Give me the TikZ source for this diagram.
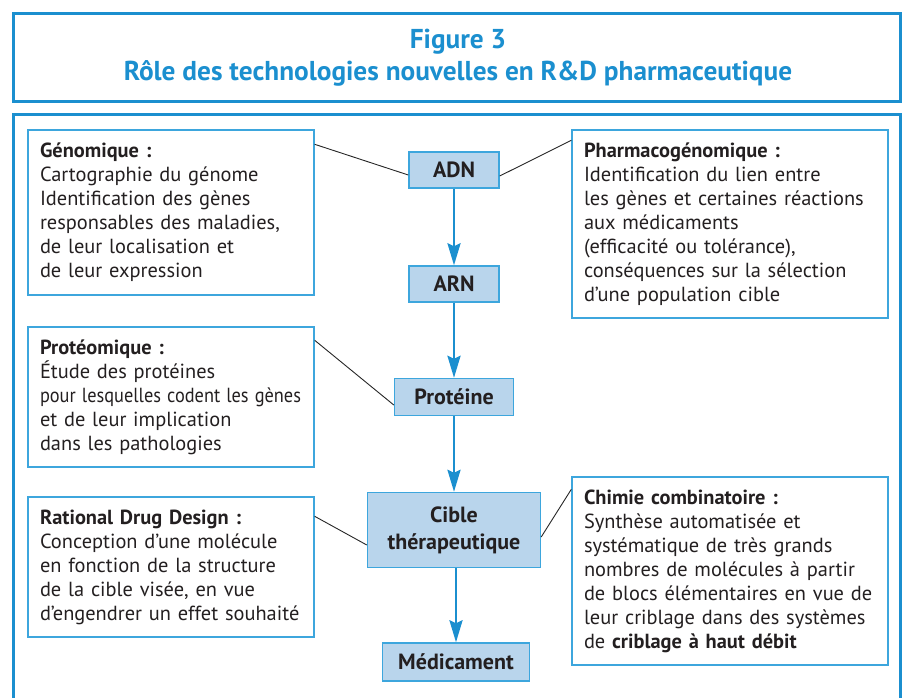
\documentclass[tikz,border=0pt]{standalone}
\usepackage{fontspec}
\usepackage{graphicx}
\setmainfont{PT Sans}
\usetikzlibrary{arrows.meta}

\definecolor{frameblue}{HTML}{1B8FCF}
\definecolor{boxblue}{HTML}{3DA6DD}
\definecolor{stagefill}{HTML}{B9D5EC}
\definecolor{bodytext}{HTML}{231F20}

\tikzset{
  infobox/.style={draw=boxblue, line width=1.4pt, text=bodytext, align=left,
    text width=#1, inner sep=12pt, font=\fontsize{20.4}{24}\selectfont},
  stage/.style={draw=boxblue, fill=stagefill, line width=1.4pt, text=bodytext,
    align=center, inner sep=4pt, font=\fontsize{22}{27}\selectfont\bfseries},
  flow/.style={draw=frameblue, line width=2.6pt,
    -{Stealth[length=22pt,width=13pt,inset=3pt]}},
  link/.style={draw=black!85, line width=0.9pt},
}

\begin{document}
\begin{tikzpicture}[x=1pt,y=-1pt]
    \useasboundingbox (0,0) rectangle (904,697);

    % title frame and main frame
    \draw[frameblue, line width=3pt] (13,13) rectangle (900,101);
    \node[text=frameblue, align=center, font=\fontsize{27.3}{32}\selectfont\bfseries]
      (title) at (458,58) {Figure 3\\Rôle des technologies nouvelles en R\&D pharmaceutique};
    \draw[frameblue, line width=3pt] (13,114) rectangle (900,720);

    % main chain
    \node[stage, minimum width=90pt, minimum height=36pt] (adn) at (454,170) {ADN};
    \node[stage, minimum width=90pt, minimum height=36pt] (arn) at (454,284) {ARN};
    \node[stage, minimum width=119pt, minimum height=37pt] (prot) at (454,397) {Protéine};
    \node[stage, minimum width=173pt, minimum height=75pt] (cible) at (454,530) {Cible\\thérapeutique};
    \node[stage, minimum width=147pt, minimum height=38pt] (medic) at (456,662) {Médicament};

    \draw[flow] (adn) -- (arn);
    \draw[flow] (arn) -- (prot);
    \draw[flow] (prot) -- (cible);
    \draw[flow] (cible.south -| medic.north) -- (medic);

    % side boxes
    \node[infobox=262pt, minimum width=286pt, minimum height=165pt] (geno) at (171,212.5)
      {\textbf{Génomique~:}\\Cartographie du génome\\Identification des gènes\\responsables des maladies,\\de leur localisation et\\de leur expression};
    \node[infobox=262pt, minimum width=286pt, minimum height=140pt] (proteo) at (171,397)
      {\textbf{Protéomique~:}\\Étude des protéines\\\resizebox{261pt}{\height}{pour lesquelles codent les gènes}\\et de leur implication\\dans les pathologies};
    \node[infobox=262pt, minimum width=286pt, minimum height=140pt] (rdd) at (171,567)
      {\textbf{Rational Drug Design~:}\\Conception d’une molécule\\en fonction de la structure\\de la cible visée, en vue\\d’engendrer un effet souhaité};
    \node[infobox=292pt, minimum width=316pt, minimum height=188pt] (pharma) at (730,224)
      {\textbf{Pharmacogénomique~:}\\Identification du lien entre\\les gènes et certaines réactions\\aux médicaments\\(efficacité ou tolérance),\\conséquences sur la sélection\\d’une population cible};
    \node[infobox=292pt, minimum width=316pt, minimum height=188pt] (chimie) at (730,571)
      {\textbf{Chimie combinatoire~:}\\Synthèse automatisée et\\systématique de très grands\\nombres de molécules à partir\\de blocs élémentaires en vue de\\leur criblage dans des systèmes\\de \textbf{criblage à haut débit}};

    % links from the boxes to the chain
    \draw[link] ([yshift=-15pt]geno.north east) -- ([yshift=-5pt]adn.west);
    \draw[link] ([yshift=-6pt]adn.east) -- ([yshift=-11pt]pharma.north west);
    \draw[link] ([yshift=-14pt]proteo.north east) -- ([yshift=-8pt]prot.west);
    \draw[link] ([yshift=-20pt]rdd.north east) -- ([yshift=-15pt]cible.west);
    \draw[link] ([yshift=-7pt]cible.east) -- ([yshift=-13pt]chimie.north west);
\end{tikzpicture}
\end{document}
